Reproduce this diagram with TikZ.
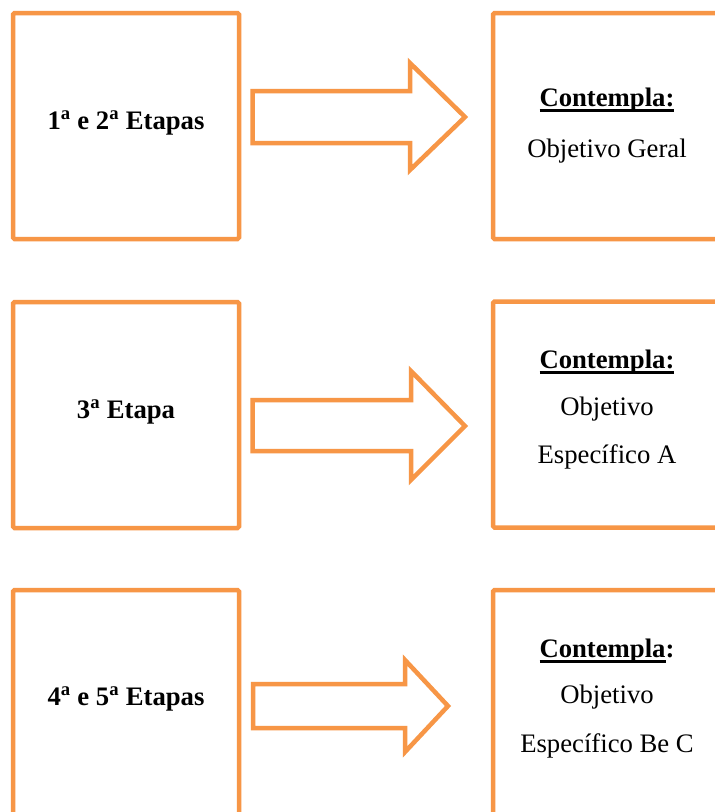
\documentclass[tikz,border=0pt]{standalone}
\usepackage{fontspec}
\setmainfont{Liberation Serif}
\definecolor{org}{HTML}{F79646}
\newsavebox\ulbox
\newcommand\ulw[1]{\sbox\ulbox{#1}\rlap{\rule[-5.5pt]{\wd\ulbox}{2.2pt}}\usebox\ulbox}
\begin{document}
\begin{tikzpicture}[x=1pt,y=-1pt,
  lbox/.style={draw=org, line width=4.5pt, minimum width=226pt, minimum height=226pt, inner sep=0pt, rounded corners=1.5pt},
  rbox/.style={lbox, minimum width=270pt},
  txt/.style={font=\fontsize{26.7}{32}\selectfont, inner sep=0pt, anchor=base},
  blockarrow/.style={draw=org, line width=4.5pt, line join=miter, fill=white}]
\clip (0,0) rectangle (715,812);
\fill[white] (0,0) rectangle (715,812);
% row 1
\node[lbox] (l1) at (126,126) {};
\node[rbox] (r1) at (628,126) {};
\draw[blockarrow] (252.5,91) -- (410,91) -- (410,63) -- (465,117) -- (410,170) -- (410,143) -- (252.5,143) -- cycle;
\node[txt] (t1) at (126,129) {\bfseries 1\textsuperscript{a} e 2\textsuperscript{a} Etapas};
\node[txt] (c1) at (607,106) {\bfseries\ulw{Contempla:}};
\node[txt] (o1) at (607,157) {Objetivo Geral};
% row 2
\node[lbox] (l2) at (126,415) {};
\node[rbox] (r2) at (628,414.5) {};
\draw[blockarrow] (252.5,400) -- (411,400) -- (411,371) -- (465,426) -- (411,480) -- (411,451) -- (252.5,451) -- cycle;
\node[txt] (t2) at (126,418) {\bfseries 3\textsuperscript{a} Etapa};
\node[txt] (c2) at (607,368) {\bfseries\ulw{Contempla:}};
\node[txt] (o2) at (607,415) {Objetivo};
\node[txt] (e2) at (607,463) {Específico A};
% row 3
\node[lbox] (l3) at (126,703) {};
\node[rbox] (r3) at (628,703) {};
\draw[blockarrow] (253,684) -- (405,684) -- (405,660) -- (448,706) -- (405,752) -- (405,728) -- (253,728) -- cycle;
\node[txt] (t3) at (126,705) {\bfseries 4\textsuperscript{a} e 5\textsuperscript{a} Etapas};
\node[txt] (c3) at (607,657) {\bfseries\ulw{Contempla}:};
\node[txt] (o3) at (607,703) {Objetivo};
\node[txt] (e3) at (607,752) {Específico Be C};
\end{tikzpicture}
\end{document}
